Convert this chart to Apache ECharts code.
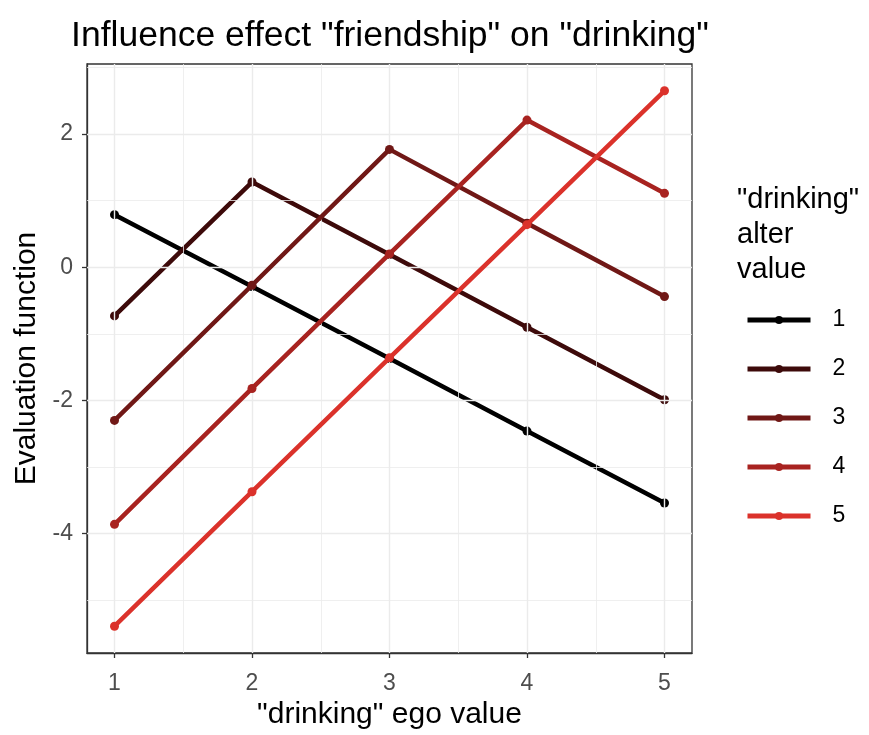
<!DOCTYPE html>
<html>
<head>
<meta charset="utf-8">
<script src="https://cdn.jsdelivr.net/npm/echarts@6/dist/echarts.min.js"></script>
<style>
  html, body { margin: 0; padding: 0; background: #ffffff; }
  #chart { width: 869px; height: 735px; }
</style>
</head>
<body>
<div id="chart"></div>
<script>
// Ego values on the x axis, one series per alter value
const egoValues = [1, 2, 3, 4, 5];
const alterValues = ['1', '2', '3', '4', '5'];

const alter1 = [0.79, -0.29, -1.37, -2.46, -3.54];
const alter2 = [-0.73, 1.28, 0.19, -0.90, -1.99];
const alter3 = [-2.30, -0.27, 1.77, 0.66, -0.44];
const alter4 = [-3.86, -1.82, 0.20, 2.21, 1.11];
const alter5 = [-5.39, -3.37, -1.36, 0.64, 2.65];

const seriesValues = [alter1, alter2, alter3, alter4, alter5];
const seriesColors = ['#000000', '#3d0a0a', '#701816', '#a82320', '#db322b'];

// Tick positions
const xMajorTicks = [1, 2, 3, 4, 5];
const xMinorTicks = [1.5, 2.5, 3.5, 4.5];
const yMajorTicks = [-4, -2, 0, 2];
const yMinorTicks = [-5, -3, -1, 1, 3];

// Axis ranges padded by 5% of the data span on each side
const allY = seriesValues.flat();
const yLo = Math.min(...allY), yHi = Math.max(...allY);
const yPad = (yHi - yLo) * 0.05;
const xLo = Math.min(...egoValues), xHi = Math.max(...egoValues);
const xPad = (xHi - xLo) * 0.05;

const FONT = 'Liberation Sans';
const GRID_COLOR = '#ebebeb';

const gridLines = [];
xMajorTicks.forEach(v => gridLines.push({ xAxis: v, lineStyle: { width: 1.4 } }));
xMinorTicks.forEach(v => gridLines.push({ xAxis: v, lineStyle: { width: 0.8 } }));
yMajorTicks.forEach(v => gridLines.push({ yAxis: v, lineStyle: { width: 1.4 } }));
yMinorTicks.forEach(v => gridLines.push({ yAxis: v, lineStyle: { width: 0.8 } }));

const series = [{
  name: '__grid',
  type: 'line',
  data: [],
  silent: true,
  z: 1,
  markLine: {
    silent: true,
    symbol: ['none', 'none'],
    animation: false,
    label: { show: false },
    lineStyle: { color: GRID_COLOR, type: 'solid', width: 1 },
    emphasis: { disabled: true },
    data: gridLines
  }
}];

seriesValues.forEach((vals, k) => {
  series.push({
    name: alterValues[k],
    type: 'line',
    z: 3 + k,
    data: egoValues.map((x, i) => [x, vals[i]]),
    symbol: 'circle',
    symbolSize: 9,
    color: seriesColors[k],
    itemStyle: { color: seriesColors[k] },
    lineStyle: { color: seriesColors[k], width: 4.5 },
    emphasis: { disabled: true },
    animation: false
  });
});

const chart = echarts.init(document.getElementById('chart'), null, { renderer: 'canvas' });
chart.setOption({
  backgroundColor: '#ffffff',
  animation: false,
  textStyle: { fontFamily: FONT },
  title: [{
    text: 'Influence effect "friendship" on "drinking"',
    left: 390,
    textAlign: 'center',
    top: 18,
    padding: 0,
    textStyle: { fontFamily: FONT, fontSize: 35.5, fontWeight: 'normal', color: '#000000' }
  }, {
    text: '"drinking"\nalter\nvalue',
    left: 737,
    top: 182,
    padding: 0,
    textStyle: { fontFamily: FONT, fontSize: 29, fontWeight: 'normal', color: '#000000', lineHeight: 35 }
  }],
  grid: {
    left: 87, right: 177, top: 64, bottom: 82,
    show: true,
    borderColor: '#333333',
    borderWidth: 1.3,
    backgroundColor: 'transparent',
    containLabel: false,
    outerBoundsMode: 'none'
  },
  legend: {
    data: alterValues,
    orient: 'vertical',
    left: 745,
    top: 308,
    padding: 0,
    itemWidth: 63,
    itemHeight: 10,
    itemGap: 25,
    selectedMode: false,
    lineStyle: { width: 5 },
    itemStyle: { borderWidth: 0 },
    textStyle: { fontFamily: FONT, fontSize: 23, lineHeight: 24, color: '#000000', padding: [0, 0, 0, 17] }
  },
  xAxis: {
    type: 'value',
    min: xLo - xPad,
    max: xHi + xPad,
    name: '"drinking" ego value',
    nameLocation: 'middle',
    nameGap: 45,
    nameTextStyle: { fontFamily: FONT, fontSize: 30, color: '#000000' },
    axisLine: { show: true, onZero: false, lineStyle: { color: '#333333', width: 1.3 } },
    axisTick: { show: true, length: 5, customValues: xMajorTicks, lineStyle: { color: '#333333', width: 1.3 } },
    axisLabel: { customValues: xMajorTicks, margin: 19, fontFamily: FONT, fontSize: 23, color: '#4d4d4d' },
    splitLine: { show: false }
  },
  yAxis: {
    type: 'value',
    min: yLo - yPad,
    max: yHi + yPad,
    name: 'Evaluation function',
    nameLocation: 'middle',
    nameGap: 44,
    nameRotate: 90,
    nameTextStyle: { fontFamily: FONT, fontSize: 30, color: '#000000' },
    axisLine: { show: true, onZero: false, lineStyle: { color: '#333333', width: 1.3 } },
    axisTick: { show: true, length: 5, customValues: yMajorTicks, lineStyle: { color: '#333333', width: 1.3 } },
    axisLabel: { customValues: yMajorTicks, margin: 14, fontFamily: FONT, fontSize: 23, color: '#4d4d4d' },
    splitLine: { show: false }
  },
  series: series
});
</script>
</body>
</html>
